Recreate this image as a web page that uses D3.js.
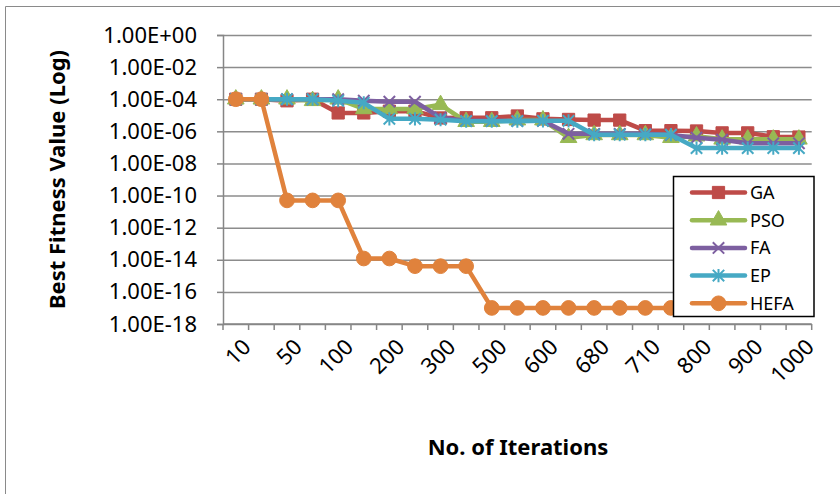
<!DOCTYPE html>
<html>
<head>
<meta charset="utf-8">
<script src="https://cdn.jsdelivr.net/npm/d3@7.9.0/dist/d3.min.js"></script>
<style>
  body { margin: 0; background: #fff; }
  svg { display: block; font-family: 'Noto Sans', 'Open Sans', sans-serif; }
</style>
</head>
<body>
<div id="chart"></div>
<script>
// iterations (only every other one is labelled on the axis)
const categories = ['10', '30', '50', '70', '100', '150', '200', '250', '300', '400', '500', '550',
  '600', '650', '680', '700', '710', '750', '800', '850', '900', '950', '1000'];

const ga   = [1e-4, 1e-4, 8e-5, 1e-4, 1.4e-5, 1.4e-5, 1.8e-5, 1.8e-5, 6.8e-6, 7e-6, 7e-6, 9e-6,
  6e-6, 5.5e-6, 5e-6, 5e-6, 1.1e-6, 1.1e-6, 1.05e-6, 8e-7, 8e-7, 4.6e-7, 4.4e-7];
const pso  = [1e-4, 1e-4, 1e-4, 8e-5, 1e-4, 2.5e-5, 2.5e-5, 2.5e-5, 4.5e-5, 4e-6, 4e-6, 5e-6,
  5e-6, 4e-7, 6e-7, 6e-7, 6e-7, 4e-7, 5e-7, 3.2e-7, 3.2e-7, 3.2e-7, 3.2e-7];
const fa   = [1e-4, 1e-4, 1e-4, 1e-4, 1e-4, 8e-5, 7e-5, 7e-5, 7e-6, 4.5e-6, 4.5e-6, 4.5e-6,
  4.5e-6, 7e-7, 7e-7, 7e-7, 7e-7, 6e-7, 4e-7, 3e-7, 1.8e-7, 1.8e-7, 1.8e-7];
const ep   = [1e-4, 1e-4, 1e-4, 1e-4, 8e-5, 6e-5, 6e-6, 6e-6, 5.3e-6, 4.3e-6, 4.3e-6, 4.3e-6,
  4.5e-6, 4.5e-6, 6.2e-7, 6.2e-7, 6.2e-7, 6.2e-7, 9e-8, 9e-8, 9e-8, 9e-8, 9e-8];
const hefa = [1e-4, 1e-4, 5e-11, 5e-11, 5e-11, 1.2e-14, 1.2e-14, 4e-15, 4e-15, 4e-15, 1e-17, 1e-17,
  1e-17, 1e-17, 1e-17, 1e-17, 1e-17, 1e-17, 1e-17, 1e-17, 1e-17, 1e-17, 1e-17];

const yTickValues = [1, 1e-2, 1e-4, 1e-6, 1e-8, 1e-10, 1e-12, 1e-14, 1e-16, 1e-18];

const series = [
  { name: 'GA',   values: ga,   color: '#be4b48', marker: 'square' },
  { name: 'PSO',  values: pso,  color: '#98b954', marker: 'triangle' },
  { name: 'FA',   values: fa,   color: '#7d5fa0', marker: 'x' },
  { name: 'EP',   values: ep,   color: '#46a9c4', marker: 'star' },
  { name: 'HEFA', values: hefa, color: '#e0823c', marker: 'circle' },
];

const width = 840;
const height = 494;
const plot = { left: 223, right: 811.7, top: 35, bottom: 324 };

const svg = d3.select('#chart')
  .append('svg')
  .attr('width', width)
  .attr('height', height);

// outer chart frame: only its left and top edges fall inside the picture
svg.append('path')
  .attr('d', `M5.5,${height} V6.5 H${width}`)
  .attr('fill', 'none')
  .attr('stroke', '#8a8a8a');

const x = d3.scaleBand().domain(categories).range([plot.left, plot.right]);
const y = d3.scaleLog().domain([1e-18, 1]).range([plot.bottom, plot.top]);
const cx = c => x(c) + x.bandwidth() / 2;

const fmt = v => {
  const e = Math.round(Math.log10(v));
  return '1.00E' + (e < 0 ? '-' : '+') + String(Math.abs(e)).padStart(2, '0');
};

// gridlines
svg.append('g')
  .attr('transform', `translate(${plot.left},0)`)
  .call(d3.axisLeft(y).tickValues(yTickValues).tickFormat('').tickSize(-(plot.right - plot.left)))
  .call(g => g.select('.domain').remove())
  .call(g => g.selectAll('line').attr('stroke', '#8c8c8c').attr('stroke-width', 1.5));

// y axis
svg.append('g')
  .attr('transform', `translate(${plot.left},0)`)
  .call(d3.axisLeft(y).tickValues(yTickValues).tickFormat(fmt).tickSize(6).tickPadding(20))
  .call(g => g.select('.domain').attr('stroke', '#868686').attr('stroke-width', 1.5))
  .call(g => g.selectAll('line').attr('stroke', '#868686').attr('stroke-width', 1.5))
  .call(g => g.selectAll('text')
    .attr('fill', '#000')
    .style('font-size', '22px')
    .style('font-family', "'Noto Sans', sans-serif"));

// x axis line + boundary ticks
const xAxis = svg.append('g');
xAxis.append('line')
  .attr('x1', plot.left).attr('x2', plot.right)
  .attr('y1', plot.bottom).attr('y2', plot.bottom)
  .attr('stroke', '#868686').attr('stroke-width', 1.5);

const bounds = categories.map(c => x(c)).concat([x(categories[categories.length - 1]) + x.bandwidth()]);
xAxis.selectAll('line.tick')
  .data(bounds)
  .join('line')
  .attr('class', 'tick')
  .attr('x1', d => d).attr('x2', d => d)
  .attr('y1', plot.bottom).attr('y2', plot.bottom + 6)
  .attr('stroke', '#868686').attr('stroke-width', 1.5);

xAxis.selectAll('text')
  .data(categories.filter((c, i) => i % 2 === 0))
  .join('text')
  .attr('transform', d => `translate(${cx(d) + 11},${plot.bottom + 19}) rotate(-45)`)
  .attr('text-anchor', 'end')
  .attr('dy', '0.35em')
  .style('font-size', '22px')
  .text(d => d);

// markers
const starSymbol = {
  draw(ctx, size) {
    const r = Math.sqrt(size) / 2;
    ctx.moveTo(-r, -r); ctx.lineTo(r, r);
    ctx.moveTo(-r, r); ctx.lineTo(r, -r);
    ctx.moveTo(0, -r * 1.15); ctx.lineTo(0, r * 1.15);
  }
};
const xSymbol = {
  draw(ctx, size) {
    const r = Math.sqrt(size) / 2;
    ctx.moveTo(-r, -r); ctx.lineTo(r, r);
    ctx.moveTo(-r, r); ctx.lineTo(r, -r);
  }
};

function drawMarker(sel, s) {
  if (s.marker === 'square') {
    sel.attr('d', d3.symbol(d3.symbolSquare, 150)).attr('fill', s.color).attr('stroke', s.color);
  } else if (s.marker === 'triangle') {
    sel.attr('d', d3.symbol(d3.symbolTriangle, 120)).attr('fill', s.color).attr('stroke', s.color);
  } else if (s.marker === 'x') {
    sel.attr('d', d3.symbol(xSymbol, 130)).attr('fill', 'none').attr('stroke', s.color).attr('stroke-width', 2);
  } else if (s.marker === 'star') {
    sel.attr('d', d3.symbol(starSymbol, 130)).attr('fill', 'none').attr('stroke', s.color).attr('stroke-width', 2);
  } else {
    sel.attr('d', d3.symbol(d3.symbolCircle, 170)).attr('fill', s.color).attr('stroke', s.color);
  }
}

const line = d3.line()
  .x((d, i) => cx(categories[i]))
  .y(d => y(d));

series.forEach(s => {
  const g = svg.append('g');
  g.append('path')
    .attr('d', line(s.values))
    .attr('fill', 'none')
    .attr('stroke', s.color)
    .attr('stroke-width', 4.5)
    .attr('stroke-linejoin', 'round')
    .attr('stroke-linecap', 'round');
  g.selectAll('path.m')
    .data(s.values)
    .join('path')
    .attr('class', 'm')
    .attr('transform', (d, i) => `translate(${cx(categories[i])},${y(d)})`)
    .call(drawMarker, s);
});

// legend
const legend = svg.append('g');
legend.append('rect')
  .attr('x', 673.5).attr('y', 176.5)
  .attr('width', 140.5).attr('height', 140)
  .attr('fill', '#fff')
  .attr('stroke', '#000')
  .attr('stroke-width', 1.5);

const rows = legend.selectAll('g.row')
  .data(series)
  .join('g')
  .attr('class', 'row')
  .attr('transform', (d, i) => `translate(692,${192.5 + i * 27.7})`);

rows.append('line')
  .attr('x1', 0).attr('x2', 53)
  .attr('stroke', d => d.color)
  .attr('stroke-width', 4.5)
  .attr('stroke-linecap', 'round');

rows.append('path')
  .attr('transform', 'translate(26.5,0)')
  .each(function (d) { d3.select(this).call(drawMarker, d); });

rows.append('text')
  .attr('x', 58)
  .attr('dy', '0.35em')
  .style('font-size', '18px')
  .text(d => d.name);

// axis titles
svg.append('text')
  .attr('transform', `translate(57,${(plot.top + plot.bottom) / 2}) rotate(-90)`)
  .attr('text-anchor', 'middle')
  .attr('dy', '0.35em')
  .style('font-size', '22px')
  .style('font-weight', 'bold')
  .text('Best Fitness Value (Log)');

svg.append('text')
  .attr('x', 518)
  .attr('y', 447)
  .attr('text-anchor', 'middle')
  .attr('dy', '0.35em')
  .style('font-size', '22px')
  .style('font-weight', 'bold')
  .text('No. of Iterations');
</script>
</body>
</html>
